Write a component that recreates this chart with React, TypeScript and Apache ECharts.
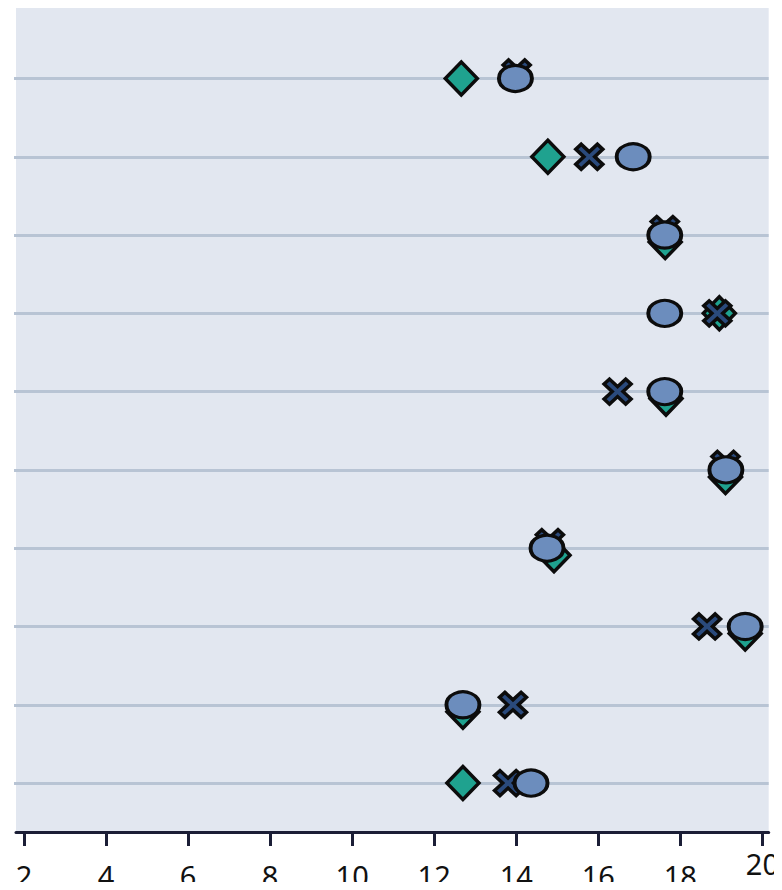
import React, { useEffect, useRef } from "react";
import * as echarts from "echarts";

// Row index (1 = top row)
const rows = [1, 2, 3, 4, 5, 6, 7, 8, 9, 10];
// Series values (x positions)
const diamondValues = [12.66, 14.77, 17.63, 18.95, 17.65, 19.1, 14.92, 19.58, 12.7, 12.7];
const crossValues = [14.01, 15.78, 17.62, 18.9, 16.47, 19.1, 14.82, 18.65, 13.92, 13.8];
const circleValues = [13.98, 16.85, 17.62, 17.62, 17.62, 19.11, 14.75, 19.58, 12.7, 14.36];
// Tick labels
const xTickLabels = [2, 4, 6, 8, 10, 12, 14, 16, 18];
const xLastLabel = [20];

const CROSS =
  "path://M2,0 L5,3 L8,0 L10,2 L7,5 L10,8 L8,10 L5,7 L2,10 L0,8 L3,5 L0,2 Z";

export default function App() {
  const ref = useRef<HTMLDivElement>(null);
  useEffect(() => {
    if (!ref.current) return;
    const chart = echarts.init(ref.current, null, { renderer: "svg" });
    const near = (a: number, b: number) => Math.abs(a - b) < 0.3;
    const labelStyle = {
      color: "#111111",
      fontSize: 29,
      fontFamily: "Noto Sans",
    };
    const xBase = {
      type: "value" as const,
      min: 1.806,
      max: 20.153,
      position: "bottom" as const,
      splitLine: { show: false },
    };
    chart.setOption({
      animation: false,
      grid: {
        left: 16,
        right: 10,
        top: 8,
        bottom: 57,
        show: true,
        backgroundColor: "#e2e7f0",
        borderWidth: 0,
      },
      xAxis: [
        {
          ...xBase,
          axisLine: { show: true, lineStyle: { color: "#1b1e36", width: 3 } },
          axisTick: {
            show: true,
            length: 14,
            customValues: [...xTickLabels, ...xLastLabel],
            lineStyle: { color: "#1b1e36", width: 3 },
          },
          axisLabel: { ...labelStyle, margin: 29, customValues: xTickLabels },
        },
        {
          ...xBase,
          axisLine: { show: false },
          axisTick: { show: false },
          axisLabel: { ...labelStyle, margin: 17, customValues: xLastLabel },
        },
      ],
      yAxis: {
        type: "value",
        inverse: true,
        min: 0.1,
        max: 10.625,
        axisLine: { show: false },
        axisLabel: { show: false },
        axisTick: {
          show: true,
          length: 2,
          customValues: rows,
          lineStyle: { color: "#b8c4d4", width: 3 },
        },
        splitLine: {
          show: true,
          customValues: rows,
          lineStyle: { color: "#b8c4d4", width: 3 },
        },
      },
      series: [
        {
          name: "diamond",
          type: "scatter",
          symbol: "diamond",
          symbolSize: [32, 33],
          itemStyle: { color: "#1fa28f", borderColor: "#0c0c0c", borderWidth: 3.5, opacity: 1 },
          data: rows.map((r, i) => ({
            value: [diamondValues[i], r],
            symbolOffset: near(diamondValues[i], circleValues[i]) ? [0, 7] : [0, 0],
          })),
        },
        {
          name: "cross",
          type: "scatter",
          symbol: CROSS,
          symbolSize: [27, 25],
          itemStyle: { color: "#2a4a7c", borderColor: "#0c0c0c", borderWidth: 3.5, opacity: 1 },
          data: rows.map((r, i) => ({
            value: [crossValues[i], r],
            symbolOffset: near(crossValues[i], circleValues[i]) ? [0, -6] : [0, 0],
          })),
        },
        {
          name: "circle",
          type: "scatter",
          symbol: "circle",
          symbolSize: [33, 26],
          itemStyle: { color: "#6c8dbd", borderColor: "#0c0c0c", borderWidth: 3.5, opacity: 1 },
          data: rows.map((r, i) => [circleValues[i], r]),
        },
      ],
    });
    return () => chart.dispose();
  }, []);
  return <div ref={ref} style={{ width: 782, height: 890, margin: -8 }} />;
}
